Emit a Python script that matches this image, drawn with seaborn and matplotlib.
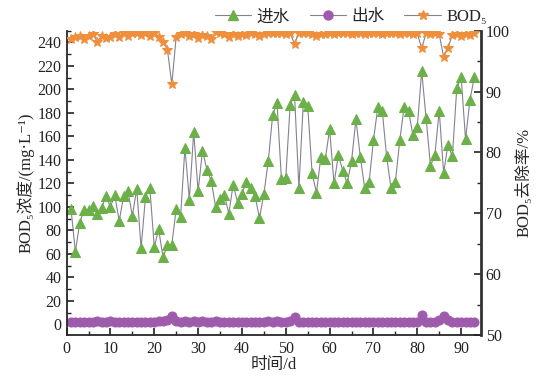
import numpy as np
import pandas as pd
import seaborn as sns
import matplotlib.pyplot as plt
from matplotlib.lines import Line2D
from matplotlib.ticker import MultipleLocator

# BOD5 data, one value per day (day 1 .. 93)
days = list(range(1, 94))

influent = [98.6, 61.7, 86.7, 97.2, 97.0, 100.6, 93.8, 99.5, 109.0, 100.0,
            110.0, 88.0, 109.0, 113.6, 92.3, 115.3, 65.0, 108.5, 116.0, 66.0,
            81.0, 57.0, 67.4, 68.0, 98.0, 91.5, 150.5, 106.3, 163.8, 113.4,
            148.0, 131.8, 122.0, 100.0, 107.0, 110.0, 94.4, 119.0, 103.7, 111.4,
            121.3, 116.0, 109.0, 90.6, 110.8, 139.0, 178.0, 188.5, 124.0, 125.0,
            187.0, 195.0, 116.0, 189.0, 186.0, 129.0, 112.0, 142.6, 140.6, 166.0,
            120.0, 144.0, 131.0, 120.0, 139.0, 174.6, 142.6, 116.0, 121.0, 156.8,
            185.0, 182.0, 143.0, 116.0, 121.0, 156.8, 185.0, 182.0, 161.0, 168.0,
            215.7, 175.7, 135.0, 144.0, 182.0, 129.0, 153.0, 143.0, 200.8, 210.6,
            157.6, 190.8, 210.6]

effluent = [2.3, 2.0, 2.1, 2.4, 1.8, 2.2, 2.5, 2.0, 2.3, 2.6,
            2.1, 2.4, 2.0, 1.9, 2.2, 1.8, 2.0, 2.1, 2.3, 2.2,
            2.5, 3.0, 4.0, 7.0, 3.0, 2.2, 2.5, 2.3, 2.6, 2.4,
            3.0, 2.2, 2.0, 2.5, 2.1, 2.4, 2.0, 2.3, 2.2, 2.0,
            2.4, 2.1, 2.3, 2.0, 2.2, 2.5, 2.1, 2.7, 2.0, 2.3,
            2.9, 6.0, 2.4, 1.8, 2.0, 2.2, 2.1, 1.9, 2.0, 2.2,
            2.0, 1.8, 2.1, 2.0, 1.9, 2.2, 2.0, 1.8, 2.1, 2.0,
            1.9, 2.1, 2.0, 2.2, 1.9, 2.0, 2.1, 1.8, 2.0, 2.1,
            7.8, 2.0, 1.8, 2.2, 3.5, 7.0, 3.5, 2.0, 2.4, 2.1,
            2.0, 2.3, 2.2]

removal = [98.6, 98.9, 99.2, 98.7, 99.2, 99.4, 98.2, 99.1, 98.8, 98.9,
           99.4, 99.0, 99.6, 99.2, 99.6, 99.7, 99.3, 99.7, 99.1, 99.6,
           98.9, 98.1, 96.9, 91.2, 99.0, 99.4, 99.6, 99.2, 99.5, 98.8,
           99.3, 99.1, 98.6, 99.8, 99.7, 99.5, 98.9, 99.4, 99.2, 99.5,
           99.3, 99.6, 99.4, 99.2, 99.5, 99.6, 99.6, 99.7, 99.6, 99.5,
           99.6, 97.8, 99.7, 99.6, 99.6, 99.4, 99.2, 99.4, 99.5, 99.6,
           99.5, 99.6, 99.7, 99.6, 99.5, 99.7, 99.6, 99.5, 99.6, 99.7,
           99.6, 99.5, 99.7, 99.6, 99.6, 99.5, 99.7, 99.6, 99.5, 99.6,
           97.1, 99.6, 99.5, 99.6, 99.4, 95.7, 97.2, 99.3, 99.5, 99.2,
           99.5, 99.3, 99.6]

labels = ["进水", "出水", "BOD₅"]

sns.set_style("ticks")
plt.rcParams['font.family'] = ['Liberation Serif', 'Noto Sans CJK SC', 'DejaVu Serif']
plt.rcParams['axes.unicode_minus'] = False

df = pd.DataFrame({"day": days, "in": influent, "out": effluent, "rate": removal})

line_c = "#858092"
green = "#6cb04a"
purple = "#9e5bab"
orange = "#ef8f3c"

fig = plt.figure(figsize=(5.48, 3.78), dpi=100)
ax = fig.add_axes([0.1215, 0.1138, 0.756, 0.805])
ax2 = ax.twinx()

sns.lineplot(data=df, x="day", y="in", ax=ax, color=line_c, lw=0.8,
             marker="^", markersize=7.5, markerfacecolor=green, markeredgecolor=green)
sns.lineplot(data=df, x="day", y="out", ax=ax, color=line_c, lw=0.8,
             marker="o", markersize=6.5, markerfacecolor=purple, markeredgecolor=purple)
sns.lineplot(data=df, x="day", y="rate", ax=ax2, color=line_c, lw=0.8,
             marker="*", markersize=7.5, markerfacecolor=orange, markeredgecolor=orange)

ax.set_xlim(0, 94.5)
ax.set_ylim(-9, 250)
ax2.set_ylim(50, 100)

ax.xaxis.set_major_locator(MultipleLocator(10))
ax.xaxis.set_minor_locator(MultipleLocator(5))
ax.yaxis.set_major_locator(MultipleLocator(20))
ax.yaxis.set_minor_locator(MultipleLocator(10))
ax2.yaxis.set_major_locator(MultipleLocator(10))
ax2.yaxis.set_minor_locator(MultipleLocator(5))

for a in (ax, ax2):
    a.tick_params(which="major", direction="in", length=5, width=1.2, labelsize=11.5, colors="#222222")
    a.tick_params(which="minor", direction="in", length=3, width=1.0)
    a.spines["top"].set_visible(False)
    for s in a.spines.values():
        s.set_linewidth(1.3)
ax.spines["right"].set_visible(False)
ax2.spines["left"].set_visible(False)
ax2.spines["bottom"].set_visible(False)
ax2.spines["right"].set_color("#333333")
ax2.spines["right"].set_linewidth(2)
ax.tick_params(axis="x", pad=4)

ax.set_xlabel("时间/d", fontsize=12, labelpad=0)
ax.set_ylabel("BOD₅浓度/(mg·L⁻¹)", fontsize=12, labelpad=2)
ax2.set_ylabel("BOD₅去除率/%", fontsize=12, labelpad=4)

handles = [
    Line2D([], [], color=line_c, lw=0.8, marker="^", markersize=7.5,
           markerfacecolor=green, markeredgecolor=green),
    Line2D([], [], color=line_c, lw=0.8, marker="o", markersize=6.5,
           markerfacecolor=purple, markeredgecolor=purple),
    Line2D([], [], color=line_c, lw=0.8, marker="*", markersize=7.5,
           markerfacecolor=orange, markeredgecolor=orange),
]
fig.legend(handles, labels, loc="upper center", bbox_to_anchor=(0.64, 1.015),
           ncol=3, frameon=False, fontsize=12, handlelength=2.2,
           columnspacing=1.2, handletextpad=0.3)

fig.savefig("out.png", dpi=100)
